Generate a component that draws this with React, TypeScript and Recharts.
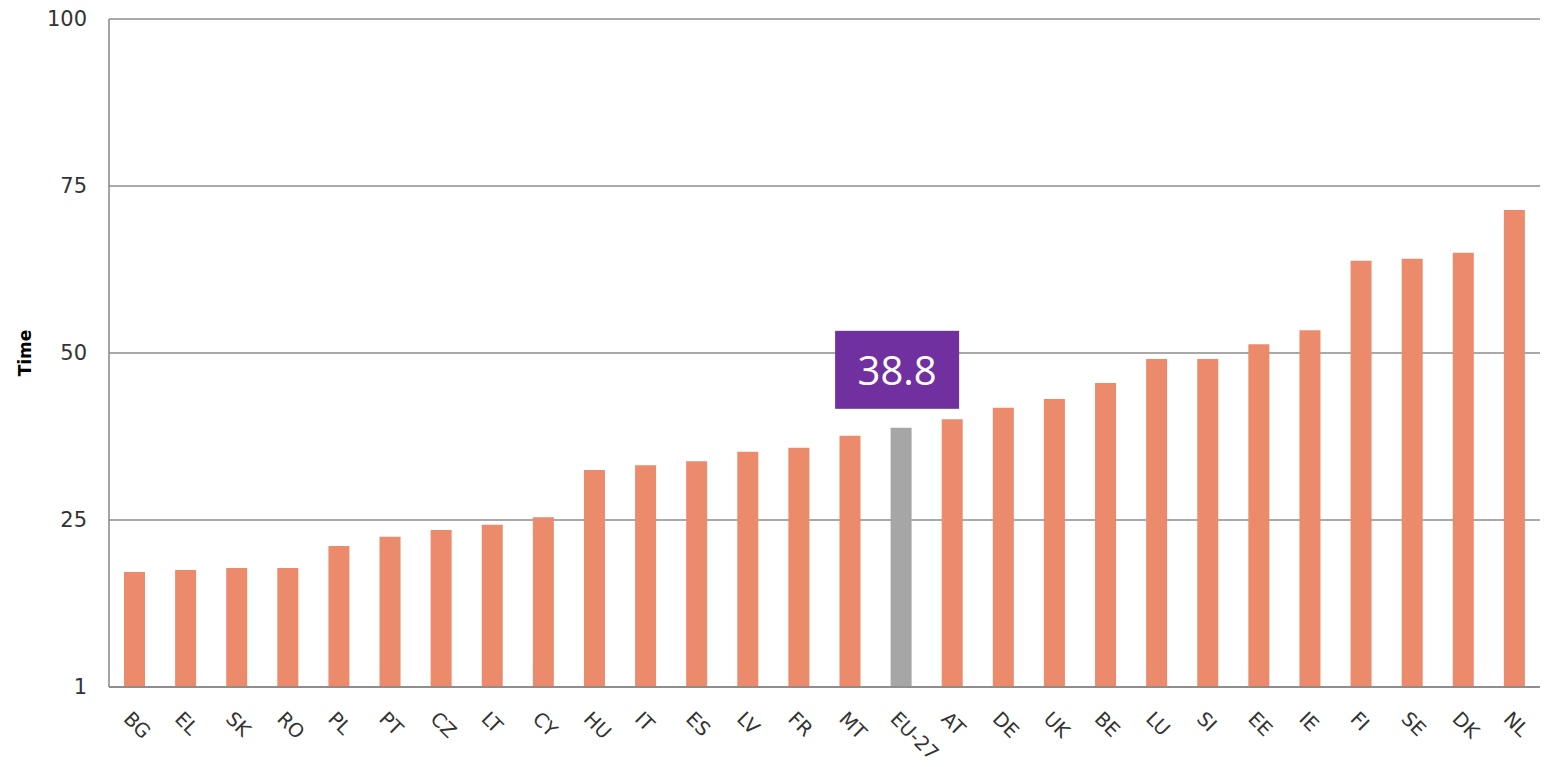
import React from 'react';
import { BarChart, Bar, XAxis, YAxis, CartesianGrid, Cell, LabelList } from 'recharts';

const categories = ['BG','EL','SK','RO','PL','PT','CZ','LT','CY','HU','IT','ES','LV','FR','MT','EU-27','AT','DE','UK','BE','LU','SI','EE','IE','FI','SE','DK','NL'];
const values = [17.2,17.5,17.8,17.8,21.1,22.5,23.5,24.3,25.4,32.5,33.2,33.8,35.2,35.8,37.6,38.8,40.1,41.8,43.1,45.5,49.1,49.1,51.3,53.4,63.8,64.1,65.0,71.4];
const yTicks = [0, 25, 50, 75, 100];
const yTickLabels = ['1', '25', '50', '75', '100'];
const highlight = 'EU-27';

const data = categories.map((c, i) => ({ country: c, value: values[i] }));

const ORANGE = '#EC8A6C';
const GREY = '#A6A6A6';
const PURPLE = '#7030A0';
const TICK_FONT = '"DejaVu Sans", Verdana, sans-serif';
const TICK_COLOR = '#333333';

const XTick = (props: any) => {
  const { x, y, payload } = props;
  return (
    <g transform={`translate(${x - 12},${y + 33}) rotate(45)`}>
      <text x={0} y={0} textAnchor="start" fill={TICK_COLOR} fontSize={19.5} fontFamily={TICK_FONT}>
        {payload.value}
      </text>
    </g>
  );
};

const YLabel = (props: any) => {
  const vb = props.viewBox || { x: 0, y: 19, width: 109, height: 668 };
  const cx = 25;
  const cy = vb.y + vb.height / 2;
  return (
    <text
      x={cx}
      y={cy}
      transform={`rotate(-90, ${cx}, ${cy})`}
      textAnchor="middle"
      dominantBaseline="central"
      fontSize={17}
      fontWeight="bold"
      fontFamily={TICK_FONT}
      fill="#000"
    >
      Time
    </text>
  );
};

const HighlightLabel = (props: any) => {
  const { x, y, width, value, index } = props;
  if (categories[index] !== highlight) return null;
  const cx = x + width / 2 - 4;
  const boxW = 124;
  const boxH = 78;
  const bottom = y - 19;
  return (
    <g>
      <rect x={cx - boxW / 2} y={bottom - boxH} width={boxW} height={boxH} fill={PURPLE} />
      <text
        x={cx}
        y={bottom - boxH / 2}
        textAnchor="middle"
        dominantBaseline="central"
        fill="#fff"
        fontSize={40}
        fontFamily='"Open Sans", sans-serif'
      >
        {Number(value).toFixed(1)}
      </text>
    </g>
  );
};

export default function App() {
  return (
    <div style={{ position: 'absolute', left: 0, top: 0, width: 1546, height: 767, background: '#fff' }}>
      <BarChart width={1546} height={767} data={data} margin={{ top: 19, right: 6, bottom: 0, left: 0 }}>
        <CartesianGrid horizontal vertical={false} stroke="#8c8c8c" strokeWidth={1.3} />
        <XAxis
          dataKey="country"
          interval={0}
          height={80}
          tickSize={0}
          tickMargin={0}
          tickLine={false}
          axisLine={{ stroke: '#868686', strokeWidth: 1.5 }}
          tick={<XTick />}
        />
        <YAxis
          domain={[0, 100]}
          ticks={yTicks}
          width={109}
          tickSize={0}
          tickMargin={22}
          tickLine={false}
          axisLine={{ stroke: '#868686', strokeWidth: 1.5 }}
          tick={{ fill: TICK_COLOR, fontSize: 21, fontFamily: TICK_FONT }}
          tickFormatter={(v: number) => yTickLabels[yTicks.indexOf(v)]}
          label={<YLabel />}
        />
        <Bar dataKey="value" barSize={21} isAnimationActive={false}>
          {data.map((d) => (
            <Cell key={d.country} fill={d.country === highlight ? GREY : ORANGE} />
          ))}
          <LabelList dataKey="value" content={<HighlightLabel />} />
        </Bar>
      </BarChart>
    </div>
  );
}
